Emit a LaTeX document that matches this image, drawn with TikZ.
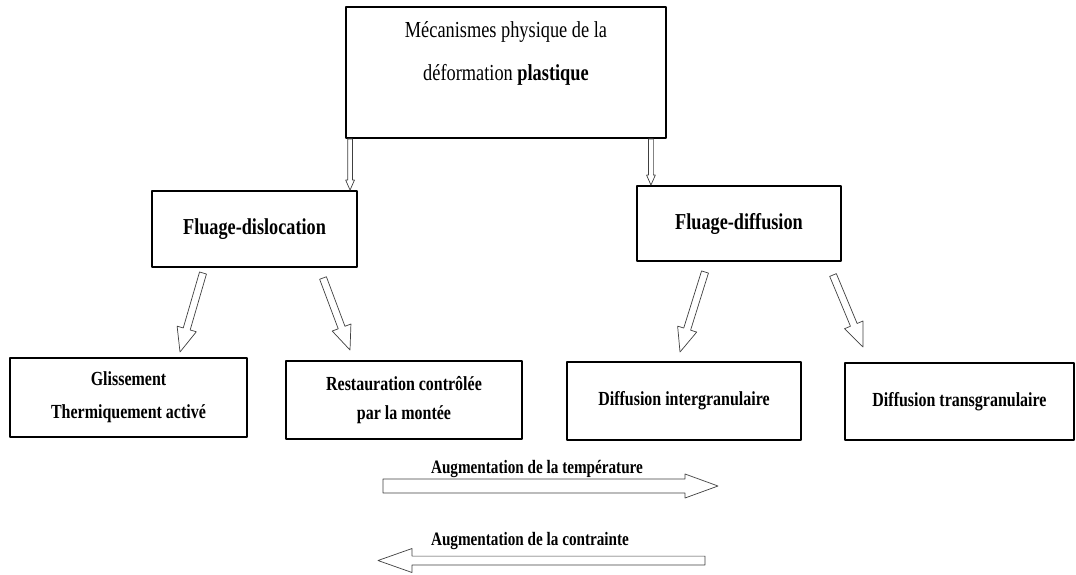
\documentclass[tikz,border=0pt]{standalone}
\usepackage{fontspec}
\setmainfont{Liberation Serif}[FakeStretch=0.8]
\usetikzlibrary{calc}
\tikzset{
  cadre/.style={draw, line width=1.3pt, inner sep=0pt, align=center, font=\bfseries\fontsize{14.2}{22}\selectfont},
  fleche/.style={draw=black!75, fill=white, line width=0.5pt}
}
\newcommand{\fleche}[5]{%
  \coordinate (fh) at ($(#2)!#5!(#1)$);
  \path [fleche] ($(#1)!#3!90:(#2)$) -- ($(fh)!#3!90:(#2)$) -- ($(fh)!#4!90:(#2)$) -- (#2)
    -- ($(fh)!#4!-90:(#2)$) -- ($(fh)!#3!-90:(#2)$) -- ($(#1)!#3!-90:(#2)$) -- cycle;
}
\begin{document}
\begin{tikzpicture}[line cap=round,line join=round,x=0.025cm,y=-0.025cm]
\useasboundingbox (0,0) rectangle (1076,574);
\node [cadre, minimum width=8cm, minimum height=3.275cm] (meca) at (506,72.5) {};
\node [align=center, font=\fontsize{16.3}{30.6}\selectfont] (mecatxt) at (506,53) {Mécanismes physique de la\\déformation \textbf{plastique}};
\node [cadre, minimum width=5.125cm, minimum height=1.9cm, font=\bfseries\fontsize{16.2}{18}\selectfont] (disloc) at (254.5,229) {Fluage-dislocation};
\node [cadre, minimum width=5.1cm, minimum height=1.875cm, font=\bfseries\fontsize{16.2}{18}\selectfont] (diffus) at (739,223.5) {Fluage-diffusion};
\node [cadre, minimum width=5.925cm, minimum height=1.975cm, font=\bfseries\fontsize{14.2}{23.5}\selectfont] (gliss) at (128.5,397.5) {Glissement\\Thermiquement activé};
\node [cadre, minimum width=5.9cm, minimum height=1.95cm, font=\bfseries\fontsize{14.2}{20.6}\selectfont] (resta) at (404,400) {Restauration contrôlée\\par la montée};
\node [cadre, minimum width=5.85cm, minimum height=1.95cm] (inter) at (684,401) {Diffusion intergranulaire};
\node [cadre, minimum width=5.725cm, minimum height=1.925cm] (trans) at (959.5,401.5) {Diffusion transgranulaire};
\coordinate (mecaL) at ([xshift=0.125cm]meca.south west);
\coordinate (mecaR) at ([xshift=-0.4cm]meca.south east);
\coordinate (dislocT) at (mecaL |- disloc.north);
\coordinate (diffusT) at (mecaR |- diffus.north);
\fleche{mecaL}{dislocT}{0.06cm}{0.11cm}{0.25cm}
\fleche{mecaR}{diffusT}{0.06cm}{0.11cm}{0.25cm}
\coordinate (d1) at (203,273);
\coordinate (g1) at (180,352);
\coordinate (d2) at (323,278);
\coordinate (r2) at (350,350);
\coordinate (d3) at (705,272);
\coordinate (i3) at (680,352);
\coordinate (d4) at (833,275);
\coordinate (t4) at (863,347);
\fleche{d1}{g1}{0.09cm}{0.25cm}{0.6cm}
\fleche{d2}{r2}{0.09cm}{0.25cm}{0.6cm}
\fleche{d3}{i3}{0.09cm}{0.25cm}{0.6cm}
\fleche{d4}{t4}{0.09cm}{0.25cm}{0.6cm}
\node [font=\bfseries\fontsize{13.5}{15}\selectfont] (temp) at (537,469) {Augmentation de la température};
\node [font=\bfseries\fontsize{13.5}{15}\selectfont] (contr) at (530,541) {Augmentation de la contrainte};
\coordinate (tempA) at (383,486);
\coordinate (tempB) at (718,486);
\coordinate (contrA) at (705,560.5);
\coordinate (contrB) at (378,560.5);
\fleche{tempA}{tempB}{0.175cm}{0.3cm}{0.825cm}
\fleche{contrA}{contrB}{0.11cm}{0.3cm}{0.85cm}
\end{tikzpicture}
\end{document}
